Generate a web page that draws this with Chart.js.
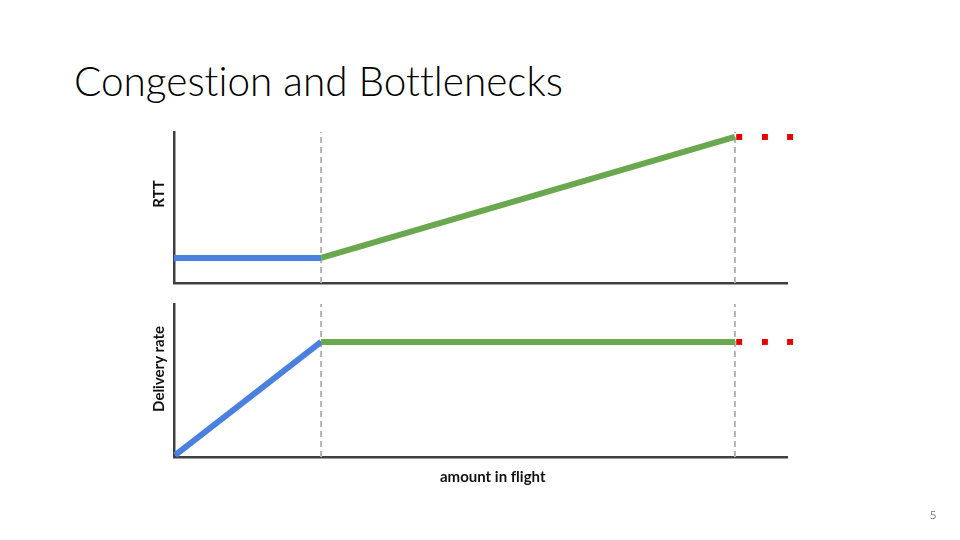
<!DOCTYPE html>
<html>
<head>
<meta charset="utf-8">
<script src="https://cdn.jsdelivr.net/npm/chart.js@4.4.1/dist/chart.umd.min.js"></script>
<style>
    body { margin: 0; background: #fff; }
    #slide { position: relative; width: 960px; height: 540px; overflow: hidden; background: #fff; }
    #slide canvas { position: absolute; left: 0; }
    .txt { position: absolute; white-space: nowrap; color: #000; font-variant-ligatures: none; }
    #title { left: 74px; top: 56px; font-family: Lato, "Open Sans", sans-serif; font-weight: 300; font-size: 40.5px; }
    .axis-label { font-family: Lato, "Open Sans", sans-serif; font-weight: 700; font-size: 15px; color: #111; }
    .rot { transform: translate(-50%, -50%) rotate(-90deg); }
    #page-num { left: 930px; top: 507px; font-family: "Open Sans", sans-serif; font-size: 11px; color: #777; }
</style>
</head>
<body>
<div id="slide">
    <div id="title" class="txt">Congestion and Bottlenecks</div>
    <canvas id="rtt-chart" width="960" height="300" style="top:0"></canvas>
    <canvas id="rate-chart" width="960" height="250" style="top:290px"></canvas>
    <div class="txt axis-label rot" style="left:158px; top:194px;">RTT</div>
    <div class="txt axis-label rot" style="left:158px; top:369px;">Delivery rate</div>
    <div class="txt axis-label" style="left:440px; top:467px;">amount in flight</div>
    <div id="page-num" class="txt">5</div>
</div>
<script>
// x: amount in flight (0 = origin, 100 = end of x axis)
var guideX = [24, 91.5];

var rttBlueX = [0, 24];
var rttBlueY = [16.6, 16.6];
var rttGreenX = [24, 91.5];
var rttGreenY = [16.6, 96.7];

var rateBlueX = [0.2, 24];
var rateBlueY = [1.3, 75.2];
var rateGreenX = [24, 91.5];
var rateGreenY = [75.2, 75.2];

var moreX = [92.2, 96.4, 100.5];
var rttMoreY = [96.7, 96.7, 96.7];
var rateMoreY = [75.2, 75.2, 75.2];

var blue = "#4a80e0";
var green = "#6aa84f";
var red = "#e60000";
var guideColor = "#b3b3b3";
var axisColor = "#404040";

function pts(xs, ys) {
    return xs.map(function (x, i) { return { x: x, y: ys[i] }; });
}

function solidLine(xs, ys, color) {
    return {
        data: pts(xs, ys),
        borderColor: color,
        borderWidth: 6,
        borderCapStyle: "butt",
        pointRadius: 0,
        clip: false
    };
}

function dots(xs, ys) {
    return {
        data: pts(xs, ys),
        showLine: false,
        pointStyle: "rect",
        pointRadius: 4.2,
        pointBackgroundColor: red,
        pointBorderWidth: 0,
        clip: false
    };
}

function guides() {
    return guideX.map(function (g) {
        return {
            data: [{ x: g, y: 0 }, { x: g, y: 100 }],
            borderColor: guideColor,
            borderWidth: 2,
            borderDash: [6, 4],
            pointRadius: 0,
            clip: false
        };
    });
}

function makeChart(canvasId, datasets, padding) {
    return new Chart(
        document.getElementById(canvasId),
        {
            type: "line",
            data: { datasets: datasets },
            options: {
                responsive: false,
                animation: false,
                devicePixelRatio: 1,
                layout: { padding: padding },
                scales: {
                    x: {
                        type: "linear",
                        min: 0,
                        max: 100,
                        grid: { display: false, drawTicks: false },
                        ticks: { display: false, padding: 0 },
                        border: { display: true, color: axisColor, width: 2.5 },
                        afterFit: function (scale) { scale.height = 0; }
                    },
                    y: {
                        min: 0,
                        max: 100,
                        grid: { display: false, drawTicks: false },
                        ticks: { display: false, padding: 0 },
                        border: { display: true, color: axisColor, width: 2.5 },
                        afterFit: function (scale) { scale.width = 0; }
                    }
                },
                plugins: {
                    legend: { display: false },
                    tooltip: { enabled: false }
                }
            }
        }
    );
}

makeChart("rtt-chart",
    [
        dots(moreX, rttMoreY),
        solidLine(rttGreenX, rttGreenY, green),
        solidLine(rttBlueX, rttBlueY, blue)
    ].concat(guides()),
    { left: 174, right: 173, top: 132, bottom: 17 }
);

makeChart("rate-chart",
    [
        dots(moreX, rateMoreY),
        solidLine(rateGreenX, rateGreenY, green),
        solidLine(rateBlueX, rateBlueY, blue)
    ].concat(guides()),
    { left: 174, right: 173, top: 14, bottom: 83 }
);
</script>
</body>
</html>
